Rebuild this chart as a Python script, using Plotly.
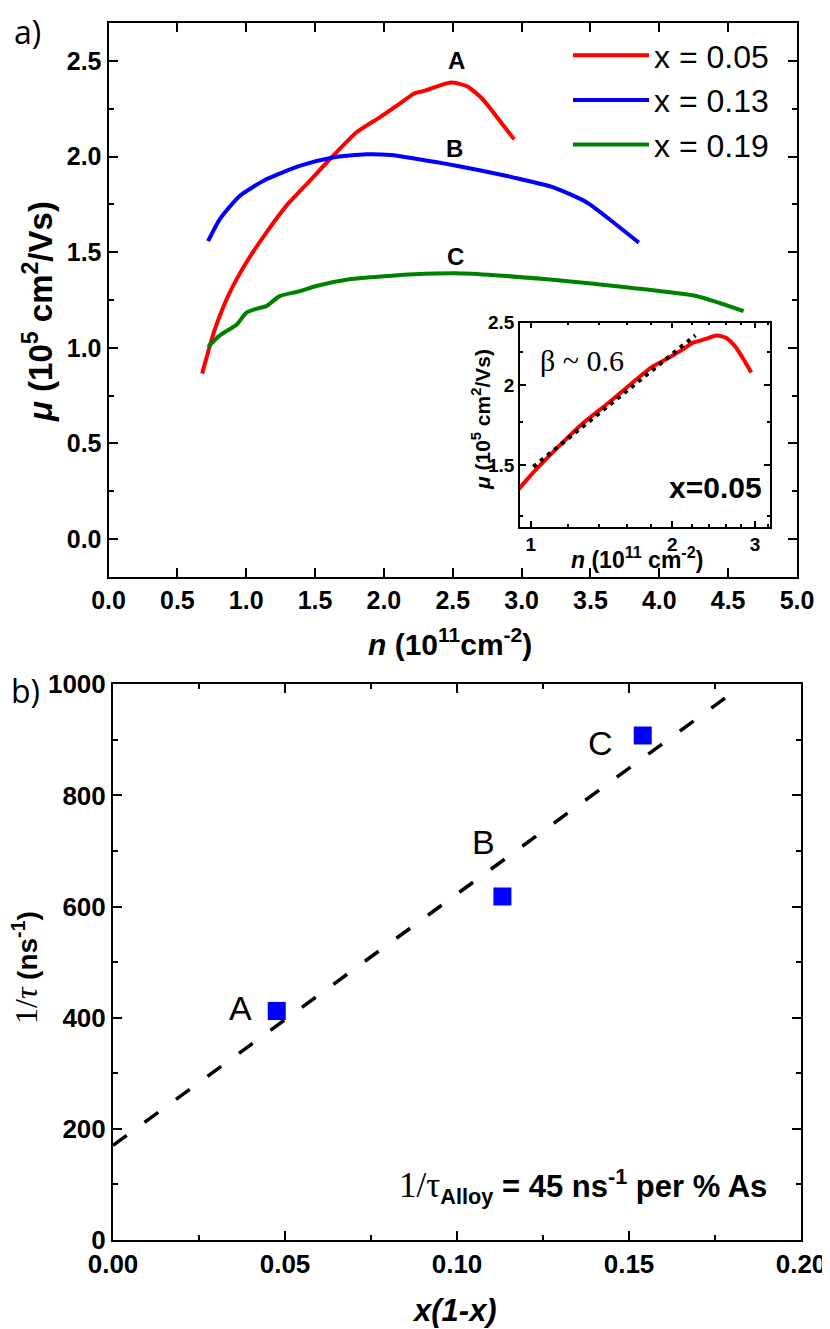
import plotly.graph_objects as go

OFF = 8  # page body margin in the browser
W, H = 830 - OFF, 1329 - OFF
SANS = "Liberation Sans, Arial, sans-serif"
SERIF = "Liberation Serif, Times New Roman, serif"

# panel a) mobility vs density, three As fractions
n_a = [0.68, 0.735, 0.772, 0.88, 1.0, 1.146, 1.29, 1.46, 1.63, 1.80, 1.967, 2.11, 2.22,
       2.30, 2.36, 2.42, 2.487, 2.55, 2.607, 2.705, 2.777, 2.861, 2.946]
mu_a = [0.865, 1.008, 1.096, 1.288, 1.445, 1.602, 1.741, 1.872, 2.003, 2.126, 2.204, 2.274, 2.33,
        2.345, 2.36, 2.375, 2.387, 2.38, 2.366, 2.309, 2.248, 2.169, 2.09]

n_b = [0.723, 0.808, 0.953, 1.146, 1.388, 1.629, 1.871, 2.05, 2.221, 2.535, 2.946, 3.236,
       3.477, 3.67, 3.851]
mu_b = [1.558, 1.672, 1.794, 1.881, 1.951, 1.995, 2.012, 2.008, 1.99, 1.951, 1.89, 1.838,
        1.759, 1.654, 1.55]

n_c = [0.723, 0.80, 0.856, 0.93, 1.0, 1.08, 1.146, 1.243, 1.388, 1.509, 1.75, 2.22, 2.583,
       3.187, 3.791, 4.274, 4.612]
mu_c = [1.005, 1.06, 1.087, 1.12, 1.183, 1.205, 1.218, 1.270, 1.296, 1.323, 1.358, 1.384, 1.389,
        1.358, 1.314, 1.27, 1.192]

names_a = ["x = 0.05", "x = 0.13", "x = 0.19"]
colors_a = ["#ff0000", "#0000ff", "#008000"]
curve_labels = ["A", "B", "C"]
label_n = [2.525, 2.51, 2.523]
label_mu = [2.50, 2.04, 1.48]

# inset: power-law fit (beta ~ 0.6) on log-log axes
fit_n = [1.013, 2.24]
fit_mu = [1.49, 2.39]

# panel b) scattering rate vs alloy disorder
xb = [0.0476, 0.1132, 0.154]
yb = [412, 618, 908]
xb_labels = ["A", "B", "C"]
xb_lab_x = [0.037, 0.1077, 0.1416]
xb_lab_y = [417, 717, 894]
fit_x = [0.0, 0.179]
fit_y = [170, 980]


def px_x(p):
    return (p - OFF) / W


def px_y(p):
    return 1 - (p - OFF) / H


fig = go.Figure()

for n, mu, name, col in zip([n_a, n_b, n_c], [mu_a, mu_b, mu_c], names_a, colors_a):
    fig.add_trace(go.Scatter(x=n, y=mu, mode="lines", name=name,
                             line=dict(color=col, width=4, shape="spline", smoothing=0.6),
                             xaxis="x", yaxis="y"))

fig.add_trace(go.Scatter(x=n_a, y=mu_a, mode="lines", showlegend=False,
                         line=dict(color="#ff0000", width=4, shape="spline", smoothing=0.6),
                         xaxis="x3", yaxis="y3"))
fig.add_trace(go.Scatter(x=fit_n, y=fit_mu, mode="lines", showlegend=False,
                         line=dict(color="black", width=4, dash="4px,5px"),
                         xaxis="x3", yaxis="y3"))

fig.add_trace(go.Scatter(x=fit_x, y=fit_y, mode="lines", showlegend=False,
                         line=dict(color="black", width=3.5, dash="17px,22px"),
                         xaxis="x2", yaxis="y2"))
fig.add_trace(go.Scatter(x=xb, y=yb, mode="markers", showlegend=False,
                         marker=dict(symbol="square", size=18, color="#0000ff",
                                     line=dict(width=0)),
                         xaxis="x2", yaxis="y2"))


def frame(size):
    return dict(showline=True, linecolor="black", linewidth=2, mirror="ticks",
                ticks="inside", ticklen=9, tickwidth=2, tickcolor="black",
                showgrid=False, zeroline=False,
                tickfont=dict(family=SANS, size=size, color="black", weight="bold"))


inset = dict(showline=True, linecolor="black", linewidth=1.5, mirror="ticks",
             ticks="inside", ticklen=6, tickwidth=1.5, tickcolor="black",
             showgrid=False, zeroline=False,
             tickfont=dict(family=SANS, size=19, color="black", weight="bold"))

fig.update_layout(
    width=W, height=H, template="none",
    paper_bgcolor="white", plot_bgcolor="rgba(0,0,0,0)",
    margin=dict(l=0, r=0, t=0, b=0),
    xaxis=dict(domain=[px_x(108.5), px_x(797)], range=[0, 5], dtick=0.5,
               tickformat=".1f", anchor="y", **frame(25)),
    yaxis=dict(domain=[px_y(577.3), px_y(22.7)], range=[-0.2, 2.7], dtick=0.5,
               tickformat=".1f", anchor="x",
               minor=dict(dtick=0.25, ticks="inside", ticklen=5, tickwidth=2, tickcolor="black"),
               **frame(25)),
    xaxis2=dict(domain=[px_x(113), px_x(801)], range=[0, 0.2], dtick=0.05,
                tickformat=".2f", anchor="y2",
                minor=dict(dtick=0.025, ticks="inside", ticklen=5, tickwidth=2, tickcolor="black"),
                **frame(26)),
    yaxis2=dict(domain=[px_y(1239.8), px_y(684.3)], range=[0, 1000], dtick=200,
                anchor="x2",
                minor=dict(dtick=100, ticks="inside", ticklen=5, tickwidth=2, tickcolor="black"),
                **frame(26)),
    xaxis3=dict(domain=[px_x(520), px_x(770)], type="log", range=[-0.0227, 0.509],
                tickvals=[1, 2, 3], ticktext=["1", "2", "3"], anchor="y3",
                minor=dict(tickvals=[1.2, 1.4, 1.6, 1.8, 2.2, 2.4, 2.6, 2.8, 3.2],
                           ticks="inside", ticklen=3, tickwidth=1.5, tickcolor="black"),
                **inset),
    yaxis3=dict(domain=[px_y(526.7), px_y(322.7)], type="log", range=[0.0797, 0.398],
                tickvals=[1.5, 2, 2.5], ticktext=["1.5", "2", "2.5"], anchor="x3",
                minor=dict(tickvals=[1.25, 1.75, 2.25],
                           ticks="inside", ticklen=3, tickwidth=1.5, tickcolor="black"),
                **inset),
    legend=dict(x=px_x(568), y=px_y(28), xanchor="left", yanchor="top",
                bgcolor="rgba(0,0,0,0)", itemwidth=76,
                font=dict(family=SANS, size=32, color="black")),
    showlegend=True,
)

ann = []
for t, xx, yy in zip(curve_labels, label_n, label_mu):
    ann.append(dict(x=xx, y=yy, xref="x", yref="y", text="<b>" + t + "</b>", showarrow=False,
                    font=dict(family=SANS, size=24, color="black")))
for t, xx, yy in zip(xb_labels, xb_lab_x, xb_lab_y):
    ann.append(dict(x=xx, y=yy, xref="x2", yref="y2", text=t, showarrow=False,
                    font=dict(family=SANS, size=34, color="black")))

paper = [
    ("a)", 27, 32, 0, dict(family="Open Sans, sans-serif", size=32)),
    ("b)", 25, 690, 0, dict(family="Open Sans, sans-serif", size=32)),
    ("<b><i>n</i> (10<sup>11</sup>cm<sup>-2</sup>)</b>", 450, 642, 0, dict(family=SANS, size=30)),
    ("<b><i>μ</i> (10<sup>5</sup> cm<sup>2</sup>/Vs)</b>", 38, 312, -90, dict(family=SANS, size=33)),
    ("<b><i>x(1-x)</i></b>", 454, 1310, 0, dict(family=SANS, size=31)),
    ("<span style='font-family:Liberation Serif;font-size:32px'>1/<i>τ</i></span> <b>(ns<sup>-1</sup>)</b>",
     25, 968, -90, dict(family=SANS, size=28)),
    ("<span style='font-family:Liberation Serif;font-size:35px'>1/τ</span><b><sub>Alloy</sub> = 45 ns<sup>-1</sup> per % As</b>",
     583, 1186, 0, dict(family=SANS, size=31)),
    ("<b><i>μ</i> (10<sup>5</sup> cm<sup>2</sup>/Vs)</b>", 481, 420, -90, dict(family=SANS, size=21)),
    ("<b><i>n</i> (10<sup>11</sup> cm<sup>-2</sup>)</b>", 637, 558, 0, dict(family=SANS, size=23)),
    ("β ~ 0.6", 582, 360, 0, dict(family=SERIF, size=30)),
    ("<b>x=0.05</b>", 715, 488, 0, dict(family=SANS, size=30)),
]
for t, xp, yp, ang, f in paper:
    f = dict(f, color="black")
    ann.append(dict(x=px_x(xp), y=px_y(yp), xref="paper", yref="paper", text=t,
                    showarrow=False, textangle=ang, font=f,
                    xanchor="center", yanchor="middle"))

fig.update_layout(annotations=ann)
fig.write_html("out.html")
